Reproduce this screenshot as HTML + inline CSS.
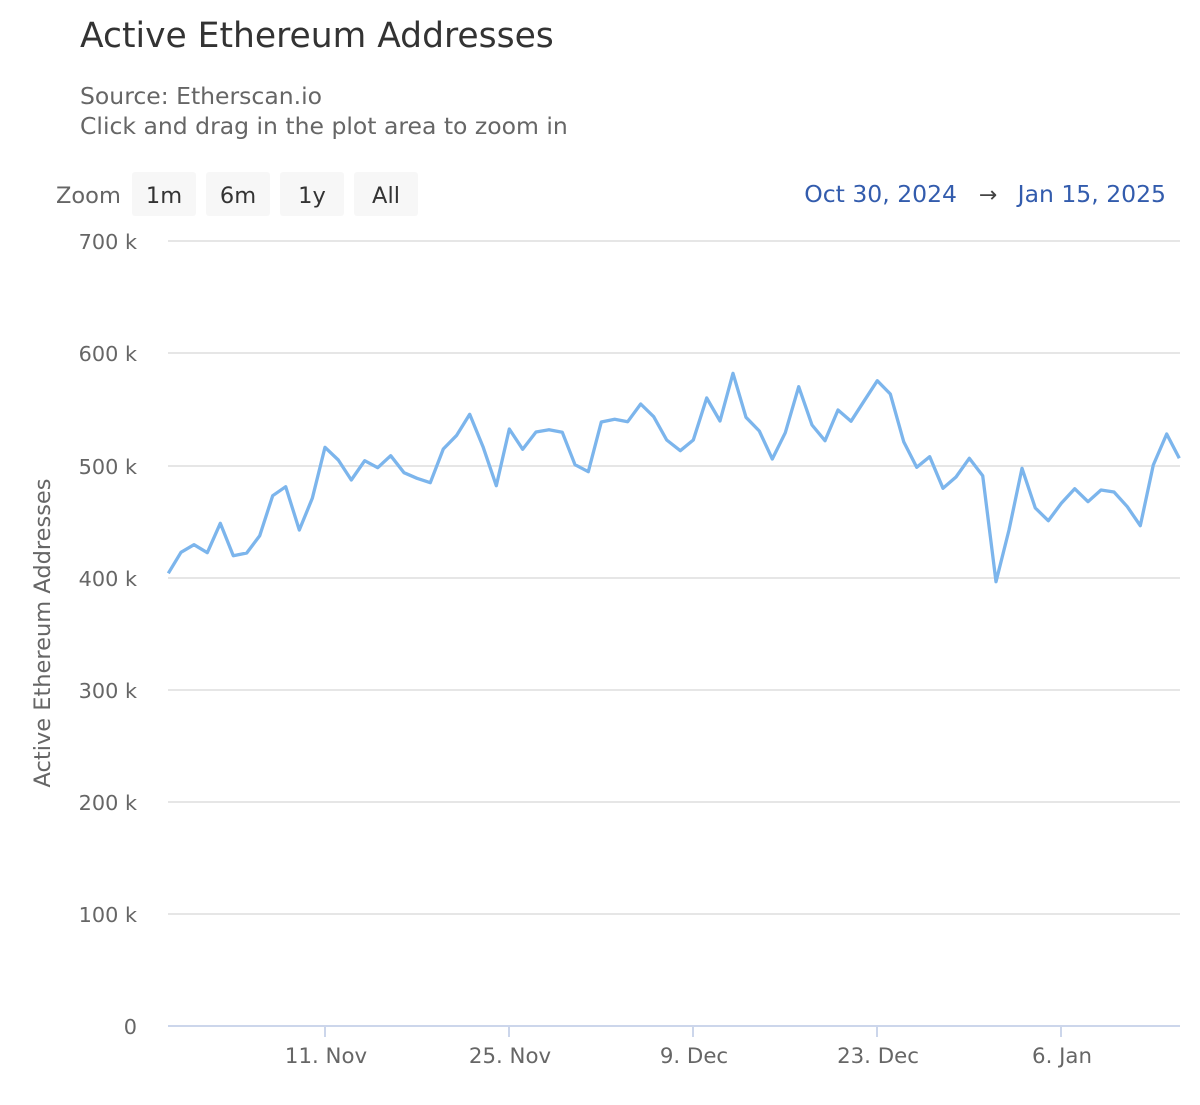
<!DOCTYPE html>
<html><head><meta charset="utf-8"><style>
body{margin:0;background:#fff;font-family:"Liberation Sans","DejaVu Sans",sans-serif;}
</style></head><body>
<svg width="1200" height="1100" xmlns="http://www.w3.org/2000/svg" font-family="DejaVu Sans, Liberation Sans, sans-serif">
<rect width="1200" height="1100" fill="#fff"/>
<text x="80" y="47" font-size="34.5" fill="#333">Active Ethereum Addresses</text>
<text x="80" y="104" font-size="23.5" fill="#666">Source: Etherscan.io</text>
<text x="80" y="134" font-size="23.5" fill="#666">Click and drag in the plot area to zoom in</text>
<text x="56" y="203" font-size="22.5" fill="#666">Zoom</text>
<rect x="132" y="172" width="64" height="44" rx="3" fill="#f7f7f7"/>
<text x="164" y="203" font-size="22.5" fill="#333" text-anchor="middle">1m</text>
<rect x="206" y="172" width="64" height="44" rx="3" fill="#f7f7f7"/>
<text x="238" y="203" font-size="22.5" fill="#333" text-anchor="middle">6m</text>
<rect x="280" y="172" width="64" height="44" rx="3" fill="#f7f7f7"/>
<text x="312" y="203" font-size="22.5" fill="#333" text-anchor="middle">1y</text>
<rect x="354" y="172" width="64" height="44" rx="3" fill="#f7f7f7"/>
<text x="386" y="203" font-size="22.5" fill="#333" text-anchor="middle">All</text>
<text x="957" y="202" font-size="23.5" fill="#335cad" text-anchor="end">Oct 30, 2024</text>
<text x="988" y="202" font-size="22" fill="#444" text-anchor="middle">→</text>
<text x="1166" y="202" font-size="23.5" fill="#335cad" text-anchor="end">Jan 15, 2025</text>
<g stroke="#e6e6e6" stroke-width="2">
<line x1="168" y1="241" x2="1180" y2="241"/><line x1="168" y1="353" x2="1180" y2="353"/>
<line x1="168" y1="466" x2="1180" y2="466"/><line x1="168" y1="578" x2="1180" y2="578"/>
<line x1="168" y1="690" x2="1180" y2="690"/><line x1="168" y1="802" x2="1180" y2="802"/>
<line x1="168" y1="914" x2="1180" y2="914"/>
</g>
<line x1="168" y1="1026" x2="1180" y2="1026" stroke="#ccd6eb" stroke-width="2"/>
<g stroke="#ccd6eb" stroke-width="2">
<line x1="325" y1="1026" x2="325" y2="1037"/><line x1="509" y1="1026" x2="509" y2="1037"/>
<line x1="693" y1="1026" x2="693" y2="1037"/><line x1="877" y1="1026" x2="877" y2="1037"/>
<line x1="1061" y1="1026" x2="1061" y2="1037"/>
</g>
<g font-size="20.8" fill="#666" text-anchor="end">
<text x="137" y="249">700 k</text><text x="137" y="361">600 k</text><text x="137" y="474">500 k</text>
<text x="137" y="586">400 k</text><text x="137" y="698">300 k</text><text x="137" y="810">200 k</text>
<text x="137" y="922">100 k</text><text x="137" y="1034">0</text>
</g>
<g font-size="21.3" fill="#666" text-anchor="middle">
<text x="326" y="1063">11. Nov</text><text x="510" y="1063">25. Nov</text><text x="694" y="1063">9. Dec</text>
<text x="878" y="1063">23. Dec</text><text x="1062" y="1063">6. Jan</text>
</g>
<text transform="translate(50,633) rotate(-90)" font-size="22.5" fill="#666" text-anchor="middle">Active Ethereum Addresses</text>
<polyline fill="none" stroke="#7cb5ec" stroke-width="3.3" stroke-linejoin="round" points="168.3,573.3 181,552.3 194,544.7 207.3,552.7 220.3,523.3 233.3,555.7 246.7,553 259.7,535.7 272.7,495.7 285.7,486.7 299.3,530 312.3,498.3 325,447.3 338.3,460 351.3,480 364.7,460.7 377.7,467.7 390.7,455.7 404,472.7 417,478.3 430.3,482.7 443.3,449 456.7,435.3 469.7,414.3 483,446.7 496.3,485.7 509.3,429 522.7,449.3 536,432 549,429.7 562.3,432.3 575,464.7 588.3,471.7 601.3,422 614.7,419.3 627.7,421.7 640.7,404 653.7,416.7 666.7,440 680.3,450.7 693.3,440 706.7,398 720,421 733,373.3 746,417.3 759.3,431 772.3,459 785.3,432.7 798.7,386.7 812,425 825,440.7 838,410 851,421.3 864.3,400.7 877.3,380.7 890.3,394 903.7,441.7 916.7,467.3 929.7,456.7 943,488.3 956,477 969.3,458.3 982.7,475.7 996,581.7 1009,530 1022,468.3 1035.3,508 1048.3,520.7 1061.3,503.3 1074.7,488.7 1088,501.7 1101,490 1114,492 1127.3,506.7 1140.3,525.7 1153.3,465 1166.7,434 1179.3,458.3"/>
</svg>
</body></html>
